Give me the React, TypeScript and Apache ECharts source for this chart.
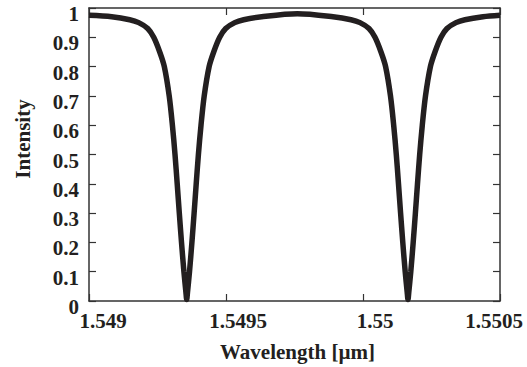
import React, { useEffect, useRef } from "react";
import * as echarts from "echarts";

// Wavelength samples [µm]
const wavelengths: number[] = [
  1.549, 1.5490829, 1.5491486, 1.5491814, 1.5492143, 1.5492362, 1.5492581, 1.5492749,
  1.5492927, 1.5493044, 1.5493139, 1.5493219, 1.5493296, 1.5493376, 1.5493464, 1.5493537,
  1.5493566,
  1.5493595, 1.5493668, 1.5493756, 1.5493836, 1.5493913, 1.5493993, 1.5494088, 1.5494205,
  1.5494384, 1.5494551, 1.549477, 1.5494989, 1.5495318, 1.5495646, 1.5496303,
  1.5497604,
  1.5498905, 1.5499562, 1.549989, 1.5500219, 1.5500438, 1.5500657, 1.5500825, 1.5501003,
  1.550112, 1.5501215, 1.5501295, 1.5501372, 1.5501452, 1.550154, 1.5501613,
  1.5501642,
  1.5501671, 1.5501744, 1.5501832, 1.5501912, 1.5501989, 1.5502069, 1.5502164, 1.5502281,
  1.550246, 1.5502627, 1.5502846, 1.5503065, 1.5503394, 1.5503722, 1.5504379, 1.5505,
];

// Intensity values
const intensity: number[] = [
  0.975, 0.97, 0.96, 0.95, 0.93, 0.9, 0.85, 0.8,
  0.7, 0.6, 0.5, 0.4, 0.3, 0.2, 0.1, 0.03,
  0.005,
  0.03, 0.1, 0.2, 0.3, 0.4, 0.5, 0.6, 0.7,
  0.8, 0.85, 0.9, 0.93, 0.95, 0.96, 0.97,
  0.98,
  0.97, 0.96, 0.95, 0.93, 0.9, 0.85, 0.8, 0.7,
  0.6, 0.5, 0.4, 0.3, 0.2, 0.1, 0.03,
  0.005,
  0.03, 0.1, 0.2, 0.3, 0.4, 0.5, 0.6, 0.7,
  0.8, 0.85, 0.9, 0.93, 0.95, 0.96, 0.97, 0.975,
];

const xTickLabels: string[] = ["1.549", "1.5495", "1.55", "1.5505"];
const yTickLabels: string[] = ["0", "0.1", "0.2", "0.3", "0.4", "0.5", "0.6", "0.7", "0.8", "0.9", "1"];

const FONT = "Liberation Serif";
const AXIS_COLOR = "#333333";
const TEXT_COLOR = "#231f20";

export default function App() {
  const ref = useRef<HTMLDivElement>(null);

  useEffect(() => {
    document.body.style.margin = "0";
    if (!ref.current) return;
    const chart = echarts.init(ref.current, null, { renderer: "svg" });
    const data = wavelengths.map((w, i) => [w, intensity[i]]);
    const axisLineStyle = { color: AXIS_COLOR, width: 1.5 };
    const tickStyle = { show: true, inside: true, length: 7, lineStyle: { color: AXIS_COLOR, width: 1.2 } };
    const txt = { fontFamily: FONT, fontWeight: "bold", fontSize: 21, color: TEXT_COLOR };

    chart.setOption({
      animation: false,
      backgroundColor: "#ffffff",
      grid: { left: 89, right: 27, top: 8, bottom: 62, containLabel: false },
      xAxis: [
        {
          type: "value",
          min: 1.549,
          max: 1.5505,
          interval: 0.0005,
          position: "bottom",
          name: "Wavelength [µm]",
          nameLocation: "middle",
          nameGap: 40,
          nameTextStyle: { ...txt, padding: [0, 0, 0, 6] },
          axisLine: { show: true, onZero: false, lineStyle: axisLineStyle },
          axisTick: tickStyle,
          splitLine: { show: false },
          axisLabel: {
            ...txt,
            margin: 9,
            padding: [0, 0, 0, 24],
            formatter: (_v: number, i: number) => {
              if (i === 0) return `{first|${xTickLabels[i]}}`;
              if (i === xTickLabels.length - 1) return `{last|${xTickLabels[i]}}`;
              return `{n|${xTickLabels[i]}}`;
            },
            rich: {
              first: { ...txt, padding: [0, 0, 0, 4] },
              n: { ...txt },
              last: { ...txt, padding: [0, 36, 0, 0] },
            },
          },
        },
        {
          type: "value",
          min: 1.549,
          max: 1.5505,
          interval: 0.0005,
          position: "top",
          axisLine: { show: true, onZero: false, lineStyle: axisLineStyle },
          axisTick: tickStyle,
          axisLabel: { show: false },
          splitLine: { show: false },
        },
      ],
      yAxis: [
        {
          type: "value",
          min: 0,
          max: 1,
          interval: 0.1,
          position: "left",
          name: "Intensity",
          nameLocation: "middle",
          nameGap: 56,
          nameRotate: 90,
          nameTextStyle: { ...txt, padding: [0, 0, 0, 31] },
          axisLine: { show: true, onZero: false, lineStyle: axisLineStyle },
          axisTick: tickStyle,
          splitLine: { show: false },
          axisLabel: {
            ...txt,
            margin: 10,
            verticalAlign: "top",
            lineHeight: 12,
            formatter: (_v: number, i: number) => yTickLabels[i] ?? "",
          },
        },
        {
          type: "value",
          min: 0,
          max: 1,
          interval: 0.1,
          position: "right",
          axisLine: { show: true, onZero: false, lineStyle: axisLineStyle },
          axisTick: tickStyle,
          axisLabel: { show: false },
          splitLine: { show: false },
        },
      ],
      series: [
        {
          type: "line",
          data,
          xAxisIndex: 0,
          yAxisIndex: 0,
          showSymbol: false,
          smooth: 0.3,
          clip: true,
          lineStyle: { color: "#231f20", width: 5.5 },
        },
      ],
    });

    return () => chart.dispose();
  }, []);

  return <div ref={ref} style={{ width: 527, height: 367, position: "absolute", left: 0, top: 0 }} />;
}
